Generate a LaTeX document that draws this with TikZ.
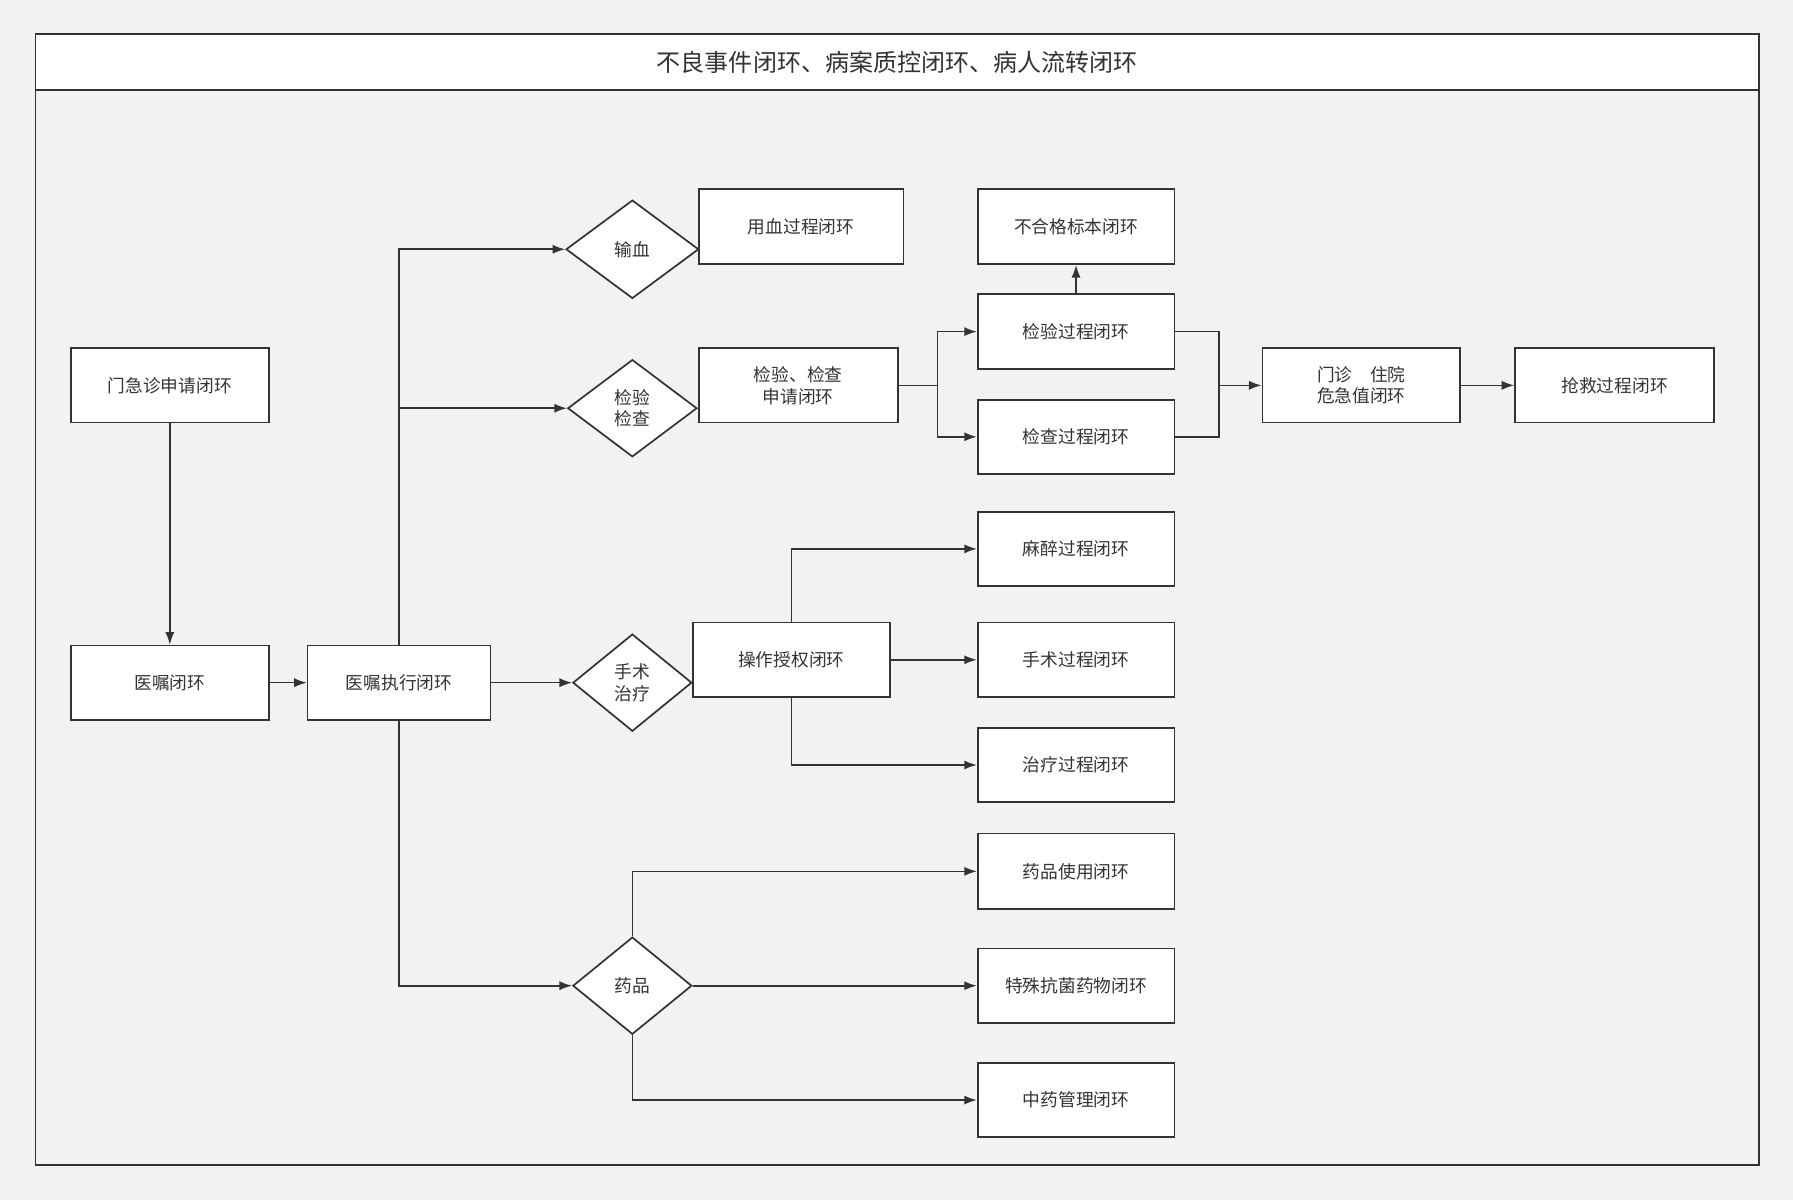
\documentclass[tikz,border=0pt]{standalone}
\usepackage{fontspec}
\setmainfont{Noto Sans CJK SC}
\usetikzlibrary{shapes.geometric,arrows.meta}
\definecolor{ln}{HTML}{333333}
\begin{document}
\begin{tikzpicture}[x=1pt,y=-1pt,
 box/.style={draw=ln,line width=1.5pt,fill=white,minimum width=173pt,minimum height=65pt,inner sep=0pt,align=center,font=\fontsize{15.5}{19}\selectfont,text=ln},
 dia/.style 2 args={draw=ln,line width=1.5pt,fill=white,diamond,minimum width=#1,minimum height=#2,inner sep=0pt,align=center,font=\fontsize{15.5}{19}\selectfont,text=ln},
 ar/.style={draw=ln,line width=1.4pt,-{Latex[length=11pt,width=8pt]}},
 ln/.style={draw=ln,line width=1.4pt}]
\fill[fill={rgb,255:red,242;green,242;blue,242}] (0,0) rectangle (1568,1049);
\useasboundingbox (0,0) rectangle (1568,1049);
\draw[ln,line width=1.6pt] (31,30) rectangle (1538,1019);
\node[draw=ln,line width=1.6pt,fill=white,minimum width=1507pt,minimum height=49pt,inner sep=0pt,font=\fontsize{21}{24}\selectfont,text=ln] (title) at (784.5,54.5) {不良事件闭环、病案质控闭环、病人流转闭环};
\node[box] (mj) at (148.5,337) {门急诊申请闭环};
\node[box] (yz) at (148.5,597) {医嘱闭环};
\node[box,minimum width=160pt] (zx) at (349,597) {医嘱执行闭环};
\node[dia={116pt}{86pt}] (sx) at (553,218) {输血};
\node[box,minimum width=179pt,minimum height=66pt] (yx) at (700.5,198) {用血过程闭环};
\node[dia={113pt}{85pt}] (jj) at (553,357) {检验\\检查};
\node[box,minimum width=174pt] (sq) at (698,337) {检验、检查\\申请闭环};
\node[box,minimum width=172pt,minimum height=66pt] (bh) at (941,198) {不合格标本闭环};
\node[box,minimum width=172pt,minimum height=66pt] (jy) at (941,290) {检验过程闭环};
\node[box,minimum width=172pt] (jc) at (941,382) {检查过程闭环};
\node[box] (wj) at (1190.5,337) {门诊\hspace{1em}住院\\危急值闭环};
\node[box,minimum width=174pt] (qj) at (1412,337) {抢救过程闭环};
\node[dia={104pt}{85pt}] (ss) at (553,597) {手术\\治疗};
\node[box,minimum width=172pt] (cz) at (692,577) {操作授权闭环};
\node[box,minimum width=172pt] (mz) at (941,480) {麻醉过程闭环};
\node[box,minimum width=172pt] (sg) at (941,577) {手术过程闭环};
\node[box,minimum width=172pt] (zl) at (941,669) {治疗过程闭环};
\node[dia={104pt}{85pt}] (yp) at (553,862) {药品};
\node[box,minimum width=172pt,minimum height=66pt] (sy) at (941,762) {药品使用闭环};
\node[box,minimum width=172pt] (ts) at (941,862) {特殊抗菌药物闭环};
\node[box,minimum width=172pt] (zy) at (941,962) {中药管理闭环};
\coordinate (b1) at (349,357);
\coordinate (s1) at (820,337);
\coordinate (m1) at (1066,337);
\draw[ar] (mj) -- (yz);
\draw[ar] (yz) -- (zx);
\draw[ar] (zx.north) |- (sx.west);
\draw[ar] (b1) -- (jj.west);
\draw[ar] (zx) -- (ss);
\draw[ar] (zx.south) |- (yp.west);
\draw[ln] (sq.east) -- (s1);
\draw[ar] (s1) |- (jy.west);
\draw[ar] (s1) |- (jc.west);
\draw[ar] (jy) -- (bh);
\draw[ln] (jy.east) -| (m1);
\draw[ln] (jc.east) -| (m1);
\draw[ar] (m1) -- (wj.west);
\draw[ar] (wj) -- (qj);
\draw[ar] (cz.north) |- (mz.west);
\draw[ar] (cz) -- (sg);
\draw[ar] (cz.south) |- (zl.west);
\draw[ar] (yp.north) |- (sy.west);
\draw[ar] (yp) -- (ts);
\draw[ar] (yp.south) |- (zy.west);
\end{tikzpicture}
\end{document}
